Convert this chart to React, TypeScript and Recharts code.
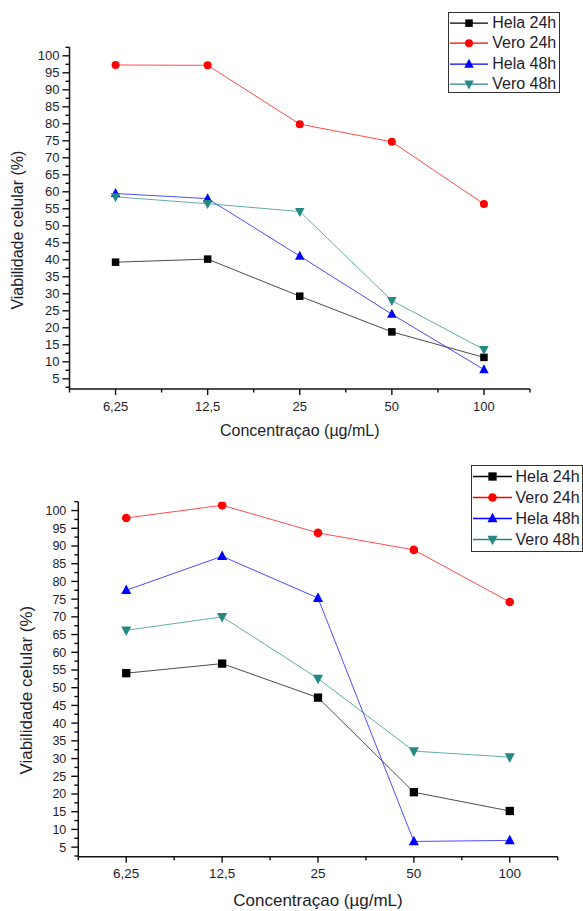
import React from "react";
import { Label, Legend, Line, LineChart, XAxis, YAxis } from "recharts";

// concentration categories (µg/mL)
const CATEGORIES = ["6,25", "12,5", "25", "50", "100"];

// top panel values (%)
const HELA_24_TOP = [39.3, 40.2, 29.3, 18.8, 11.3];
const VERO_24_TOP = [97.3, 97.2, 79.9, 74.7, 56.4];
const HELA_48_TOP = [59.5, 58.0, 41.1, 24.0, 7.7];
const VERO_48_TOP = [58.5, 56.5, 54.2, 28.0, 13.6];

// bottom panel values (%)
const HELA_24_BOTTOM = [54.1, 56.8, 47.2, 20.5, 15.2];
const VERO_24_BOTTOM = [97.9, 101.5, 93.7, 88.9, 74.2];
const HELA_48_BOTTOM = [77.5, 87.1, 75.3, 6.6, 6.9];
const VERO_48_BOTTOM = [66.2, 70.0, 52.6, 32.1, 30.4];

// x ticks: categories sit on integers, minor ticks on the halves
const X_TICKS = [-0.5, 0, 0.5, 1, 1.5, 2, 2.5, 3, 3.5, 4, 4.5];
const Y_TICKS = [
  2.5, 5, 7.5, 10, 12.5, 15, 17.5, 20, 22.5, 25, 27.5, 30, 32.5, 35, 37.5, 40, 42.5, 45, 47.5, 50,
  52.5, 55, 57.5, 60, 62.5, 65, 67.5, 70, 72.5, 75, 77.5, 80, 82.5, 85, 87.5, 90, 92.5, 95, 97.5,
  100, 102.5
];

const X_TITLE = "Concentraçao (µg/mL)";
const Y_TITLE = "Viabilidade celular (%)";

type Shape = "square" | "circle" | "up" | "down";

const SERIES: { key: string; name: string; color: string; shape: Shape }[] = [
  { key: "hela24", name: "Hela 24h", color: "#000000", shape: "square" },
  { key: "vero24", name: "Vero 24h", color: "#ff0000", shape: "circle" },
  { key: "hela48", name: "Hela 48h", color: "#0000ff", shape: "up" },
  { key: "vero48", name: "Vero 48h", color: "#248883", shape: "down" }
];

const FONT = "'Liberation Sans', Arial, sans-serif";
const AXIS = "#111";
const TEXT = "#1d1d2b";

const buildRows = (h24: number[], v24: number[], h48: number[], v48: number[]) =>
  CATEGORIES.map((_, i) => ({ idx: i, hela24: h24[i], vero24: v24[i], hela48: h48[i], vero48: v48[i] }));

const Marker = ({ cx, cy, shape, color, size }: { cx: number; cy: number; shape: Shape; color: string; size: number }) => {
  const h = size / 2;
  if (shape === "square") return <rect x={cx - h} y={cy - h} width={size} height={size} fill={color} />;
  if (shape === "circle") return <circle cx={cx} cy={cy} r={h} fill={color} />;
  if (shape === "up")
    return <polygon points={`${cx},${cy - size * 0.6} ${cx - h * 1.05},${cy + size * 0.4} ${cx + h * 1.05},${cy + size * 0.4}`} fill={color} />;
  return <polygon points={`${cx},${cy + size * 0.6} ${cx - h * 1.05},${cy - size * 0.4} ${cx + h * 1.05},${cy - size * 0.4}`} fill={color} />;
};

interface PanelConfig {
  height: number;
  margin: { top: number; right: number; left: number; bottom: number };
  yDomain: [number, number];
  rows: ReturnType<typeof buildRows>;
  xTickFont: number;
  yTickFont: number;
  yLabelGap: number;
  titleFont: number;
  xTitleDy: number;
  yTitleX: number;
  yTitleDy: number;
  markers: Record<Shape, number>;
  legend: { left: number; top: number; width: number; height: number; rowH: number; lineW: number; gap: number; font: number };
}

const TOP_PANEL: PanelConfig = {
  height: 455,
  margin: { top: 47.3, right: 53, left: 19.5, bottom: 36 },
  yDomain: [2, 102.5],
  rows: buildRows(HELA_24_TOP, VERO_24_TOP, HELA_48_TOP, VERO_48_TOP),
  xTickFont: 13,
  yTickFont: 13,
  yLabelGap: 10,
  titleFont: 16,
  xTitleDy: 41,
  yTitleX: 17,
  yTitleDy: 12,
  markers: { square: 7.5, circle: 8, up: 9, down: 9 },
  legend: { left: 447.7, top: 12, width: 112.5, height: 80.5, rowH: 20.3, lineW: 38, gap: 3.5, font: 16 }
};

const BOTTOM_PANEL: PanelConfig = {
  height: 456,
  margin: { top: 46.7, right: 25.3, left: 28.3, bottom: 24.3 },
  yDomain: [2.3, 102.5],
  rows: buildRows(HELA_24_BOTTOM, VERO_24_BOTTOM, HELA_48_BOTTOM, VERO_48_BOTTOM),
  xTickFont: 13.5,
  yTickFont: 12.5,
  yLabelGap: 12,
  titleFont: 17,
  xTitleDy: 43.3,
  yTitleX: 26,
  yTitleDy: 11,
  markers: { square: 8.3, circle: 8.6, up: 9.6, down: 9.6 },
  legend: { left: 470.5, top: 10, width: 112.5, height: 87, rowH: 21, lineW: 39, gap: 3, font: 16 }
};

const Panel = ({ cfg }: { cfg: PanelConfig }) => {
  const lg = cfg.legend;

  const xTick = (props: any) => {
    const { x, y, payload } = props;
    const v = payload.value as number;
    const major = Number.isInteger(v);
    return (
      <g>
        <line x1={x} x2={x} y1={y} y2={y + (major ? 6 : 3.5)} stroke={AXIS} strokeWidth={1.4} />
        {major ? (
          <text x={x} y={y + 17} dy="0.35em" textAnchor="middle" fontSize={cfg.xTickFont} fill={TEXT} fontFamily={FONT}>
            {CATEGORIES[v]}
          </text>
        ) : null}
      </g>
    );
  };

  const yTick = (props: any) => {
    const { x, y, payload } = props;
    const v = payload.value as number;
    const major = v % 5 === 0;
    return (
      <g>
        <line x1={x} x2={x - (major ? 7 : 4)} y1={y} y2={y} stroke={AXIS} strokeWidth={1.4} />
        {major ? (
          <text x={x - cfg.yLabelGap} y={y} dy="0.35em" textAnchor="end" fontSize={cfg.yTickFont} fill={TEXT} fontFamily={FONT}>
            {v}
          </text>
        ) : null}
      </g>
    );
  };

  const legendBox = () => (
    <div
      style={{
        boxSizing: "border-box",
        width: lg.width,
        height: lg.height,
        border: "1.5px solid #333",
        background: "#fff",
        overflow: "hidden",
        fontFamily: FONT,
        fontSize: lg.font,
        color: TEXT
      }}
    >
      {SERIES.map((s) => (
        <div key={s.key} style={{ display: "flex", alignItems: "center", height: lg.rowH, whiteSpace: "nowrap" }}>
          <svg width={lg.lineW + 2} height={lg.rowH} style={{ flex: "none" }}>
            <line x1={1} x2={lg.lineW + 1} y1={lg.rowH / 2} y2={lg.rowH / 2} stroke={s.color} strokeWidth={1.3} />
            <Marker cx={lg.lineW / 2 + 1} cy={lg.rowH / 2} shape={s.shape} color={s.color} size={cfg.markers[s.shape]} />
          </svg>
          <span style={{ marginLeft: lg.gap, lineHeight: 1 }}>{s.name}</span>
        </div>
      ))}
    </div>
  );

  return (
    <LineChart width={583} height={cfg.height} data={cfg.rows} margin={cfg.margin}>
      <XAxis
        dataKey="idx"
        type="number"
        domain={[-0.5, 4.5]}
        ticks={X_TICKS}
        interval={0}
        height={30}
        tickSize={0}
        tickMargin={0}
        tickLine={false}
        axisLine={{ stroke: AXIS, strokeWidth: 1.5 }}
        tick={xTick}
      >
        <Label
          content={(p: any) => {
            const vb = p.viewBox;
            return (
              <text x={vb.x + vb.width / 2} y={vb.y + cfg.xTitleDy} dy="0.35em" textAnchor="middle" fontSize={cfg.titleFont} fill={TEXT} fontFamily={FONT}>
                {X_TITLE}
              </text>
            );
          }}
        />
      </XAxis>
      <YAxis
        type="number"
        domain={cfg.yDomain}
        ticks={Y_TICKS}
        interval={0}
        width={50}
        tickSize={0}
        tickMargin={0}
        tickLine={false}
        allowDataOverflow
        axisLine={{ stroke: AXIS, strokeWidth: 1.5 }}
        tick={yTick}
      >
        <Label
          content={(p: any) => {
            const vb = p.viewBox;
            const cy = vb.y + vb.height / 2 + cfg.yTitleDy;
            return (
              <text
                x={cfg.yTitleX}
                y={cy}
                dy="0.35em"
                textAnchor="middle"
                transform={`rotate(-90 ${cfg.yTitleX} ${cy})`}
                fontSize={cfg.titleFont}
                fill={TEXT}
                fontFamily={FONT}
              >
                {Y_TITLE}
              </text>
            );
          }}
        />
      </YAxis>
      <Legend
        layout="vertical"
        align="center"
        verticalAlign="middle"
        content={legendBox}
        wrapperStyle={{ left: lg.left, top: lg.top, width: lg.width }}
      />
      {SERIES.map((s) => (
        <Line
          key={s.key}
          type="linear"
          dataKey={s.key}
          name={s.name}
          stroke={s.color}
          strokeWidth={1}
          strokeOpacity={0.7}
          isAnimationActive={false}
          activeDot={false}
          dot={(p: any) => (
            <Marker key={`${s.key}-${p.index}`} cx={p.cx} cy={p.cy} shape={s.shape} color={s.color} size={cfg.markers[s.shape]} />
          )}
        />
      ))}
    </LineChart>
  );
};

export default function App() {
  return (
    <div style={{ position: "absolute", left: 0, top: 0, width: 583, height: 911, overflow: "hidden", background: "#fff" }}>
      <div style={{ position: "absolute", left: 0, top: 0 }}>
        <Panel cfg={TOP_PANEL} />
      </div>
      <div style={{ position: "absolute", left: 0, top: 455 }}>
        <Panel cfg={BOTTOM_PANEL} />
      </div>
    </div>
  );
}
